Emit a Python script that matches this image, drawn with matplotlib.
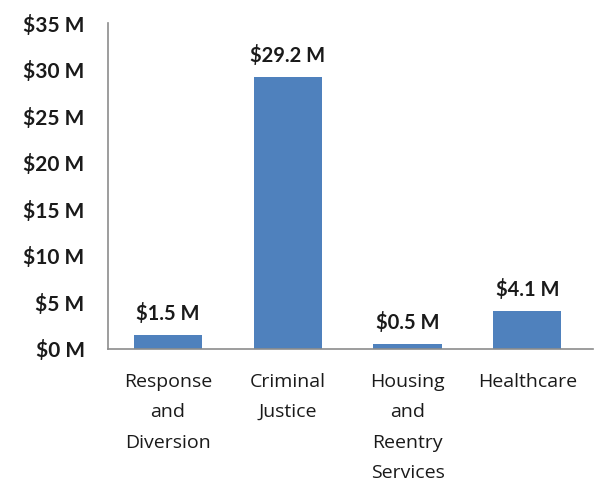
import numpy as np
import matplotlib.pyplot as plt

categories = ["Response\nand\nDiversion", "Criminal\nJustice", "Housing\nand\nReentry\nServices", "Healthcare"]
values = [1.5, 29.2, 0.5, 4.1]
yticks = [0, 5, 10, 15, 20, 25, 30, 35]

plt.rcParams['font.family'] = ['Lato', 'DejaVu Sans']

fig = plt.figure(figsize=(6.01, 4.92), dpi=100)
ax = fig.add_axes([0.18, 0.2907, 0.807, 0.662])

x = np.arange(len(categories))
bars = ax.bar(x, values, width=0.57, color='#4F81BD')

for b, v in zip(bars, values):
    ax.text(b.get_x() + b.get_width() / 2, v + 1.2, "$%.1f M" % v,
            ha='center', va='bottom', fontsize=14.5, fontweight='bold', color='#1a1a1a')

ax.set_xlim(-0.5, 3.55)
ax.set_ylim(0, 35)
ax.set_yticks(yticks)
ax.set_yticklabels(["$%d M" % t for t in yticks], fontsize=15, fontweight='bold', color='#1a1a1a')
ax.set_xticks(x)
ax.set_xticklabels(categories, fontsize=14, color='#1a1a1a', linespacing=1.9,
                   va='top', family=['Open Sans', 'DejaVu Sans'])
ax.tick_params(axis='both', length=0)
ax.tick_params(axis='x', pad=17)
ax.tick_params(axis='y', pad=17)

for s in ['top', 'right']:
    ax.spines[s].set_visible(False)
for s in ['left', 'bottom']:
    ax.spines[s].set_color('#8c8c8c')
    ax.spines[s].set_linewidth(1.2)

fig.savefig("out.png", dpi=100)
